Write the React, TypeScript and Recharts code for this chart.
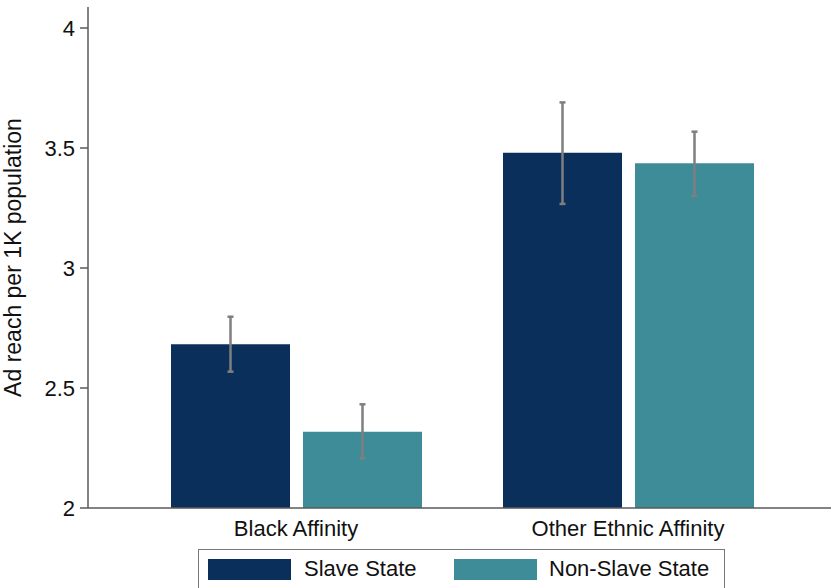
import React from "react";
import { BarChart, Bar, XAxis, YAxis, ErrorBar, Legend } from "recharts";

// Ad reach per 1K population, by affinity type and state history
const categories = ["Black Affinity", "Other Ethnic Affinity"];
const seriesNames = ["Slave State", "Non-Slave State"];
const slaveMean = [2.682, 3.48];
const slaveCI = [
  [2.568, 2.797],
  [3.267, 3.69],
];
const nonSlaveMean = [2.318, 3.436];
const nonSlaveCI = [
  [2.207, 2.432],
  [3.3, 3.568],
];
const yTicks = [2, 2.5, 3, 3.5, 4];

const COLORS = ["#0a2f5b", "#3f8c99"];
const FONT = "'Liberation Sans', Arial, Helvetica, sans-serif";
const AXIS = "#5a5a5a";

const data = categories.map((name, i) => ({
  name,
  slave: slaveMean[i],
  slaveErr: [slaveMean[i] - slaveCI[i][0], slaveCI[i][1] - slaveMean[i]],
  nonSlave: nonSlaveMean[i],
  nonSlaveErr: [nonSlaveMean[i] - nonSlaveCI[i][0], nonSlaveCI[i][1] - nonSlaveMean[i]],
}));

const YLabel = (props: any) => {
  const vb = props.viewBox || { y: 7, height: 501 };
  const cy = vb.y + vb.height / 2;
  const x = 21;
  return (
    <text
      x={x}
      y={cy}
      transform={`rotate(-90, ${x}, ${cy})`}
      textAnchor="middle"
      fontSize={23}
      fontFamily={FONT}
      fill="#111"
    >
      Ad reach per 1K population
    </text>
  );
};

const LegendBox = (props: any) => {
  const payload: any[] = props.payload || [];
  // keep the series order as declared
  const items = seriesNames.map((s, i) => {
    const p = payload.find((q: any) => q.value === s);
    return { label: s, color: (p && p.color) || COLORS[i] };
  });
  const swatchX = [9, 255];
  const textX = [105, 350];
  return (
    <div
      style={{
        position: "relative",
        width: 527,
        height: 48,
        border: "1.5px solid #777",
        boxSizing: "border-box",
        background: "#fff",
        fontFamily: FONT,
      }}
    >
      {items.map((it, i) => (
        <React.Fragment key={it.label}>
          <div
            style={{
              position: "absolute",
              left: swatchX[i],
              top: 9,
              width: 83,
              height: 21,
              background: it.color,
            }}
          />
          <div
            style={{
              position: "absolute",
              left: textX[i],
              top: 6,
              fontSize: 22,
              lineHeight: "26px",
              color: "#111",
              whiteSpace: "nowrap",
            }}
          >
            {it.label}
          </div>
        </React.Fragment>
      ))}
    </div>
  );
};

export default function App() {
  return (
    <div
      style={{
        position: "absolute",
        left: 0,
        top: 0,
        width: 831,
        height: 588,
        overflow: "hidden",
        background: "#fff",
      }}
    >
      <BarChart
        width={831}
        height={588}
        data={data}
        margin={{ top: 7, right: 0, bottom: 40, left: 0 }}
        barSize={119}
        barGap={13}
      >
        <XAxis
          dataKey="name"
          padding={{ left: 42, right: 37 }}
          height={40}
          tickLine={false}
          tickMargin={6}
          axisLine={{ stroke: AXIS, strokeWidth: 1.5 }}
          tick={{ fontSize: 22, fontFamily: FONT, fill: "#111" }}
        />
        <YAxis
          width={88}
          domain={[2, 4.0875]}
          ticks={yTicks}
          allowDataOverflow
          tickSize={8}
          tickMargin={5}
          axisLine={{ stroke: AXIS, strokeWidth: 1.5 }}
          tickLine={{ stroke: AXIS, strokeWidth: 1.5 }}
          tick={{ fontSize: 22, fontFamily: FONT, fill: "#111" }}
          label={<YLabel />}
        />
        <Legend
          layout="horizontal"
          verticalAlign="middle"
          align="center"
          wrapperStyle={{ top: 549, left: 198, width: 527, height: 48 }}
          content={<LegendBox />}
        />
        <Bar dataKey="slave" name={seriesNames[0]} fill={COLORS[0]} isAnimationActive={false}>
          <ErrorBar dataKey="slaveErr" width={3} stroke="#7f7f7f" strokeWidth={2.5} direction="y" isAnimationActive={false} />
        </Bar>
        <Bar dataKey="nonSlave" name={seriesNames[1]} fill={COLORS[1]} isAnimationActive={false}>
          <ErrorBar dataKey="nonSlaveErr" width={3} stroke="#7f7f7f" strokeWidth={2.5} direction="y" isAnimationActive={false} />
        </Bar>
      </BarChart>
    </div>
  );
}
